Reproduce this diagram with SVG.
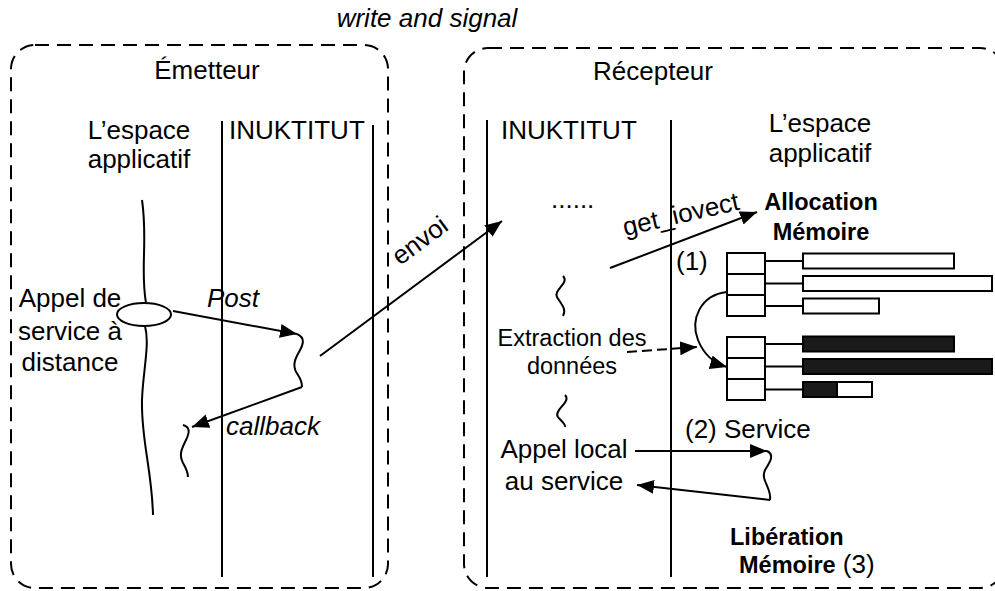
<svg xmlns="http://www.w3.org/2000/svg" width="995" height="591" viewBox="0 0 995 591">
<defs>
<marker id="ah" markerUnits="userSpaceOnUse" markerWidth="18" markerHeight="15" refX="17" refY="7" orient="auto">
<path d="M0,0 L17,7 L0,14 z" fill="#000"/>
</marker>
<style>
text{font-family:"Liberation Sans",Arial,sans-serif;font-size:26px;fill:#000}
.it{font-style:italic}
.b{font-weight:bold;font-size:23.5px}
.sm{font-size:23.5px}
.mid{text-anchor:middle}
.box{fill:none;stroke:#000;stroke-width:2;stroke-dasharray:14 8}
.ln{fill:none;stroke:#000;stroke-width:2}
.ar{fill:none;stroke:#000;stroke-width:2;marker-end:url(#ah)}
.cell{fill:#fff;stroke:#000;stroke-width:2}
.blk{fill:#1a1a1a;stroke:#000;stroke-width:2}
</style>
</defs>
<rect width="995" height="591" fill="#fff"/>
<text class="it mid" x="427" y="27">write and signal</text>

<g id="emetteur">
<rect class="box" x="11" y="45" width="377" height="543" rx="24"/>
<text class="mid" x="207" y="79">Émetteur</text>
<text class="mid" x="139" y="139">L’espace</text>
<text class="mid" x="139" y="168">applicatif</text>
<text x="229" y="139">INUKTITUT</text>
<line class="ln" x1="222" y1="121" x2="222" y2="577"/>
<line class="ln" x1="373" y1="125" x2="373" y2="577"/>
<text class="mid" x="70" y="307">Appel de</text>
<text class="mid" x="70" y="340">service à</text>
<text class="mid" x="70" y="371">distance</text>
<path class="ln" d="M142,200 C148,240 140,270 146,303"/>
<path class="ln" d="M145,326 C150,345 143,370 142,400 C141,440 152,470 153,515"/>
<ellipse class="ln" cx="144" cy="314.5" rx="27" ry="11.5"/>
<path class="ln" d="M297,334 C306,338 303,345 299,352 C293,362 293,368 298,375 C302,381 302,385 302,387"/>
<path class="ln" d="M183,425 C190,427 190,432 186,440 C181,450 179,455 183,463 C187,470 188,473 188,477"/>
<text class="it" x="207" y="307">Post</text>
<text class="it" x="226" y="435">callback</text>
</g>

<g id="recepteur">
<rect class="box" x="464" y="48" width="540" height="540" rx="24"/>
<text class="mid" x="653" y="80">Récepteur</text>
<text x="501" y="139">INUKTITUT</text>
<text class="mid" x="820" y="132">L’espace</text>
<text class="mid" x="820" y="162">applicatif</text>
<line class="ln" x1="487" y1="120" x2="487" y2="577"/>
<line class="ln" x1="671" y1="120" x2="671" y2="577"/>
<text x="551" y="208">......</text>
<text class="b mid" x="821" y="210">Allocation</text>
<text class="b mid" x="821" y="240">Mémoire</text>
<text x="676" y="270">(1)</text>
<path class="ln" d="M563,276 C570,283 553,290 557,297 C561,304 567,309 563,316"/>
<text class="sm mid" x="572" y="346">Extraction des</text>
<text class="sm mid" x="572" y="374">données</text>
<path class="ln" d="M565,395 C572,402 553,410 558,417 C561,421 566,424 565,427"/>
<text class="mid" x="564" y="458">Appel local</text>
<text class="mid" x="564" y="490">au service</text>
<text x="685" y="438">(2) Service</text>
<path class="ln" d="M767,451 C775,455 770,462 765,470 C760,480 772,488 770,500"/>
<text class="b" x="730" y="545">Libération</text>
<text x="739" y="573"><tspan class="b">Mémoire</tspan> (3)</text>
</g>

<g id="memoire">
<rect class="cell" x="727" y="253" width="38" height="21"/>
<rect class="cell" x="727" y="274" width="38" height="21"/>
<rect class="cell" x="727" y="295" width="38" height="21"/>
<rect class="cell" x="727" y="337" width="38" height="21"/>
<rect class="cell" x="727" y="358" width="38" height="21"/>
<rect class="cell" x="727" y="379" width="38" height="21"/>
<line class="ln" x1="765" y1="261" x2="803" y2="261"/>
<line class="ln" x1="765" y1="283.5" x2="803" y2="283.5"/>
<line class="ln" x1="765" y1="306" x2="803" y2="306"/>
<line class="ln" x1="765" y1="344" x2="803" y2="344"/>
<line class="ln" x1="765" y1="366.5" x2="803" y2="366.5"/>
<line class="ln" x1="765" y1="389.5" x2="803" y2="389.5"/>
<rect class="cell" x="803" y="253.5" width="151" height="15"/>
<rect class="cell" x="803" y="276" width="189" height="15"/>
<rect class="cell" x="803" y="298.5" width="76" height="15"/>
<rect class="blk" x="803" y="336.5" width="151" height="15"/>
<rect class="blk" x="803" y="359" width="189" height="15"/>
<rect class="cell" x="803" y="382" width="69" height="15"/>
<rect class="blk" x="803" y="382" width="34" height="15"/>
</g>

<g id="connecteurs">
<path class="ar" d="M173,311 L297,334"/>
<path class="ar" d="M302,387 L192,427"/>
<path class="ar" d="M320,356 L502,221"/>
<text transform="rotate(-36.5 400 266)" x="400" y="266">envoi</text>
<path class="ar" d="M610,268 L757,212"/>
<text transform="rotate(-13 625 236)" x="625" y="236">get_iovect</text>
<path class="ar" d="M627,352 L697,347" stroke-dasharray="10 5"/>
<path class="ar" d="M727,292 C700,295 690,320 698,340 C704,355 713,363 727,367"/>
<path class="ar" d="M635,451 L767,451"/>
<path class="ar" d="M770,500 L637,485"/>
</g>
</svg>
